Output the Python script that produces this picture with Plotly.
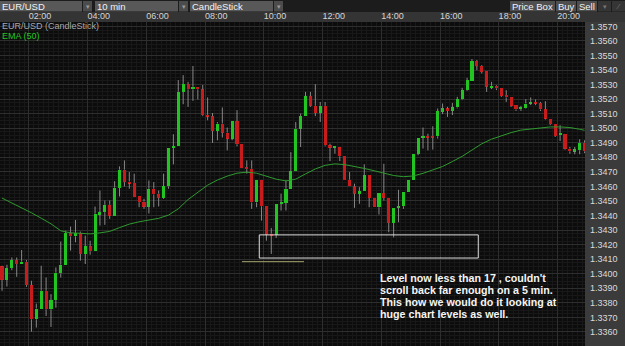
import plotly.graph_objects as go
import pandas as pd

DAY = "2013-11-20"
# 10-minute candles, 01:00 .. 20:50
times = pd.date_range(f"{DAY} 01:00", periods=120, freq="10min")

open_ = [1.34050, 1.33959, 1.34039, 1.34094, 1.34067, 1.34083, 1.33922, 1.33687, 1.33756, 1.33883,
         1.33756, 1.33819, 1.34002, 1.34062, 1.34278, 1.34257, 1.34281, 1.34136, 1.34188, 1.34154,
         1.34407, 1.34423, 1.34474, 1.34400, 1.34591, 1.34715, 1.34634, 1.34625, 1.34531, 1.34496,
         1.34462, 1.34584, 1.34550, 1.34522, 1.34600, 1.34867, 1.34876, 1.35250, 1.35303, 1.35267,
         1.35285, 1.35267, 1.35090, 1.35083, 1.34981, 1.35032, 1.34970, 1.34929, 1.35048, 1.34894,
         1.34733, 1.34722, 1.34490, 1.34646, 1.34464, 1.34274, 1.34269, 1.34481, 1.34488, 1.34584,
         1.34705, 1.34998, 1.35083, 1.35221, 1.35154, 1.35105, 1.35154, 1.34883, 1.34867, 1.34871,
         1.34807, 1.34646, 1.34600, 1.34550, 1.34568, 1.34676, 1.34522, 1.34457, 1.34554, 1.34522,
         1.34350, 1.34453, 1.34464, 1.34561, 1.34646, 1.34825, 1.34936, 1.34947, 1.34947, 1.34945,
         1.35112, 1.35136, 1.35119, 1.35143, 1.35198, 1.35262, 1.35326, 1.35462, 1.35428, 1.35393,
         1.35283, 1.35292, 1.35274, 1.35228, 1.35216, 1.35159, 1.35131, 1.35140, 1.35170, 1.35181,
         1.35174, 1.35131, 1.35067, 1.35028, 1.34952, 1.34963, 1.34860, 1.34843, 1.34848, 1.34901]
high = [1.34055, 1.34062, 1.34112, 1.34112, 1.34163, 1.34094, 1.33952, 1.33795, 1.34055, 1.33974,
        1.33860, 1.34043, 1.34221, 1.34296, 1.34324, 1.34370, 1.34290, 1.34262, 1.34227, 1.34462,
        1.34572, 1.34503, 1.34503, 1.34636, 1.34738, 1.34779, 1.34699, 1.34688, 1.34531, 1.34515,
        1.34641, 1.34630, 1.34572, 1.34688, 1.34867, 1.34959, 1.35331, 1.35365, 1.35319, 1.35428,
        1.35285, 1.35297, 1.35212, 1.35105, 1.35043, 1.35143, 1.35005, 1.35048, 1.35124, 1.34894,
        1.34779, 1.34779, 1.34646, 1.34646, 1.34464, 1.34315, 1.34481, 1.34550, 1.34641, 1.34836,
        1.35043, 1.35101, 1.35250, 1.35250, 1.35303, 1.35181, 1.35181, 1.34894, 1.34876, 1.34871,
        1.34807, 1.34699, 1.34619, 1.34595, 1.34752, 1.34676, 1.34522, 1.34554, 1.34756, 1.34522,
        1.34453, 1.34577, 1.34561, 1.34646, 1.34825, 1.34936, 1.35005, 1.34963, 1.35014, 1.35136,
        1.35170, 1.35147, 1.35174, 1.35216, 1.35278, 1.35347, 1.35476, 1.35469, 1.35434, 1.35393,
        1.35319, 1.35297, 1.35274, 1.35262, 1.35216, 1.35159, 1.35154, 1.35200, 1.35212, 1.35198,
        1.35181, 1.35186, 1.35067, 1.35028, 1.35021, 1.34963, 1.34871, 1.34871, 1.34924, 1.34917]
low = [1.33883, 1.33912, 1.34025, 1.33979, 1.34067, 1.33910, 1.33602, 1.33630, 1.33756, 1.33710,
       1.33634, 1.33767, 1.33974, 1.34062, 1.34159, 1.34216, 1.34090, 1.34067, 1.34131, 1.34154,
       1.34331, 1.34336, 1.34377, 1.34400, 1.34531, 1.34600, 1.34584, 1.34526, 1.34457, 1.34446,
       1.34414, 1.34457, 1.34462, 1.34515, 1.34584, 1.34752, 1.34876, 1.35165, 1.35147, 1.35188,
       1.35198, 1.35083, 1.35055, 1.34899, 1.34917, 1.34936, 1.34848, 1.34917, 1.34876, 1.34726,
       1.34688, 1.34446, 1.34457, 1.34365, 1.34227, 1.34136, 1.34246, 1.34434, 1.34434, 1.34584,
       1.34705, 1.34871, 1.35083, 1.35147, 1.35083, 1.35043, 1.34876, 1.34774, 1.34825, 1.34774,
       1.34646, 1.34600, 1.34453, 1.34481, 1.34568, 1.34457, 1.34457, 1.34407, 1.34503, 1.34285,
       1.34250, 1.34354, 1.34446, 1.34561, 1.34646, 1.34814, 1.34860, 1.34848, 1.34853, 1.34929,
       1.35097, 1.35078, 1.35090, 1.35136, 1.35193, 1.35257, 1.35326, 1.35400, 1.35377, 1.35250,
       1.35269, 1.35262, 1.35216, 1.35181, 1.35147, 1.35119, 1.35119, 1.35136, 1.35159, 1.35159,
       1.35119, 1.35060, 1.35021, 1.34940, 1.34912, 1.34853, 1.34825, 1.34821, 1.34821, 1.34829]
close = [1.33959, 1.34039, 1.34094, 1.34067, 1.34083, 1.33922, 1.33687, 1.33761, 1.33883, 1.33756,
         1.33819, 1.34007, 1.34062, 1.34278, 1.34257, 1.34281, 1.34136, 1.34188, 1.34154, 1.34412,
         1.34423, 1.34474, 1.34400, 1.34591, 1.34715, 1.34630, 1.34623, 1.34526, 1.34492, 1.34462,
         1.34584, 1.34545, 1.34522, 1.34600, 1.34867, 1.34876, 1.35250, 1.35303, 1.35267, 1.35285,
         1.35267, 1.35090, 1.35083, 1.34981, 1.35032, 1.34970, 1.34929, 1.35048, 1.34890, 1.34726,
         1.34719, 1.34490, 1.34646, 1.34464, 1.34269, 1.34267, 1.34481, 1.34488, 1.34584, 1.34705,
         1.34998, 1.35083, 1.35221, 1.35154, 1.35105, 1.35154, 1.34883, 1.34867, 1.34876, 1.34807,
         1.34646, 1.34600, 1.34550, 1.34568, 1.34676, 1.34522, 1.34457, 1.34554, 1.34522, 1.34350,
         1.34453, 1.34464, 1.34561, 1.34646, 1.34825, 1.34936, 1.34947, 1.34936, 1.34936, 1.35117,
         1.35136, 1.35119, 1.35143, 1.35198, 1.35262, 1.35331, 1.35462, 1.35428, 1.35388, 1.35285,
         1.35290, 1.35274, 1.35223, 1.35212, 1.35154, 1.35129, 1.35147, 1.35170, 1.35181, 1.35170,
         1.35129, 1.35067, 1.35028, 1.34947, 1.34968, 1.34860, 1.34841, 1.34855, 1.34901, 1.34841]

# EMA(50) every 20 minutes
ema_times = list(pd.date_range(f"{DAY} 01:00", periods=60, freq="20min")) + [pd.Timestamp(f"{DAY} 20:50")]
ema50 = [1.34520, 1.34486, 1.34457, 1.34419, 1.34382, 1.34343, 1.34295, 1.34281, 1.34278, 1.34274,
         1.34281, 1.34291, 1.34317, 1.34341, 1.34357, 1.34370, 1.34381, 1.34403, 1.34446, 1.34510,
         1.34561, 1.34609, 1.34644, 1.34671, 1.34691, 1.34698, 1.34691, 1.34672, 1.34650, 1.34638,
         1.34650, 1.34686, 1.34720, 1.34745, 1.34755, 1.34750, 1.34739, 1.34724, 1.34708, 1.34692,
         1.34675, 1.34667, 1.34672, 1.34690, 1.34713, 1.34737, 1.34771, 1.34807, 1.34850, 1.34893,
         1.34925, 1.34950, 1.34970, 1.34987, 1.34996, 1.35005, 1.35009, 1.35009, 1.35005, 1.34993,
         1.34986]

# drawn support zone and reference level
zone_start, zone_end = f"{DAY} 09:50:30", f"{DAY} 17:17:54"
zone_low, zone_high = 1.34108, 1.34267
level_start, level_end, level_price = f"{DAY} 09:15:08", f"{DAY} 11:21:48", 1.34083

note_lines = ["Level now less than 17 , couldn't",
              "scroll back far enough on a 5 min.",
              "This how we would do it looking at",
              "huge chart levels as well."]

UP, DOWN, WICK = "#22c422", "#c81c1c", "#8a8a8a"
MIN_BODY = 0.00010
PERIOD = 600000  # 10 minutes in ms
FONT = "Arial, Liberation Sans, sans-serif"

# bodies
mid = [(o + c) / 2 for o, c in zip(open_, close)]
body_h = [max(abs(c - o), MIN_BODY) for o, c in zip(open_, close)]
body_base = [m - h / 2 for m, h in zip(mid, body_h)]
body_col = [UP if c >= o else DOWN for o, c in zip(open_, close)]

# wicks (above and below the body)
wx, wy = [], []
for t, o, h, l, c, bb, bh in zip(times, open_, high, low, close, body_base, body_h):
    wx += [t, t, t, t, t, t]
    wy += [h, bb + bh, None, bb, l, None]

fig = go.Figure()
fig.add_trace(go.Bar(x=times, y=body_h, base=body_base, width=380000,
                     marker=dict(color=body_col, line=dict(width=0)),
                     xperiod=PERIOD, xperiodalignment="middle", hoverinfo="skip"))
fig.add_trace(go.Scatter(x=wx, y=wy, mode="lines", line=dict(color=WICK, width=1),
                         connectgaps=False, xperiod=PERIOD, xperiodalignment="middle",
                         hoverinfo="skip"))
fig.add_trace(go.Scatter(x=ema_times, y=ema50, mode="lines", line=dict(color="#2f9a2f", width=1),
                         xperiod=PERIOD, xperiodalignment="middle", hoverinfo="skip"))

W, H, MR, MT = 625, 346, 40, 22
PW, PH = W - MR, H - MT


def px(x):
    return x / PW


def py(y):
    return (H - y) / PH


shapes = []
ann = []


def box(x0, x1, y0, y1, color, layer="below"):
    shapes.append(dict(type="rect", xref="paper", yref="paper", x0=px(x0), x1=px(x1),
                       y0=py(y1), y1=py(y0), fillcolor=color, line=dict(width=0), layer=layer))


def label(x, y, text, size=9, color="#eeeeee", anchor="left", weight="normal"):
    ann.append(dict(xref="paper", yref="paper", x=px(x), y=py(y), text=text, showarrow=False,
                    xanchor=anchor, yanchor="middle", borderpad=0,
                    font=dict(family=FONT, size=size, color=color, weight=weight)))


# right price panel and time band
box(585, 625, 22, 346, "#3b3b3b")
box(0, 625, 12, 22, "#343434")
# top toolbar
box(0, 625, 0, 12, "#1c1c1c")
for (a, b, txt) in [(0, 92, "EUR/USD"), (95, 188, "10 min"), (190, 283, "CandleStick")]:
    box(a, b - 10, 1, 11.5, "#585858")
    box(b - 9, b, 1, 11.5, "#4c4c4c")
    label(a + 1, 6.3, txt, size=9.5, color="#f2f2f2")
    label(b - 4.5, 6.3, "▾", size=7, color="#9a9a9a", anchor="center")
for (a, b, txt) in [(510, 555, "Price Box"), (556, 576, "Buy"), (577, 597, "Sell")]:
    box(a, b, 1, 11.5, "#4f4f4f")
    label((a + b) / 2, 6.3, txt, size=9.5, color="#f2f2f2", anchor="center")
box(598, 611, 1, 11.5, "#353535")
box(612, 625, 1, 11.5, "#353535")
label(604.5, 6.3, "▾", size=7, color="#777777", anchor="center")
label(618.5, 6.3, "⁄", size=8, color="#777777", anchor="center")

# legend texts
label(1, 26.5, "EUR/USD (CandleStick)", size=9, color="#a9a9a9")
label(1, 36, "EMA (50)", size=9, color="#22c422")

# note text
for k, line in enumerate(note_lines):
    label(378.5, 277.7 + 12.2 * k, line, size=10.7, color="#f5f5f5", weight="bold")

# zone rectangle and level line (data coordinates)
shapes.append(dict(type="rect", xref="x", yref="y", x0=zone_start, x1=zone_end,
                   y0=zone_low, y1=zone_high, line=dict(color="#dedede", width=1),
                   fillcolor="rgba(0,0,0,0)", layer="above"))
shapes.append(dict(type="line", xref="x", yref="y", x0=level_start, x1=level_end,
                   y0=level_price, y1=level_price, line=dict(color="#a3a36c", width=1),
                   layer="above"))

fig.update_layout(
    width=W, height=H, margin=dict(l=0, r=MR, t=MT, b=0, pad=0),
    paper_bgcolor="#1c1c1c", plot_bgcolor="#0c0c0c", showlegend=False,
    bargap=0, shapes=shapes, annotations=ann,
    xaxis=dict(type="date", range=[f"{DAY} 01:00:50", f"{DAY} 20:55:55"], side="top",
               tickformat="%H:%M", dtick=7200000, tick0=f"{DAY} 02:00", ticks="",
               ticklabelshift=11, tickfont=dict(family=FONT, size=9, color="#d6d6d6"),
               showgrid=True, gridcolor="#2e2e2e", gridwidth=1, zeroline=False, showline=False,
               minor=dict(dtick=PERIOD, showgrid=True, gridcolor="#181818", gridwidth=1),
               fixedrange=True),
    yaxis=dict(range=[1.335034, 1.357302], side="right", dtick=0.001, tickformat=".4f",
               ticks="", ticklabelstandoff=4,
               tickfont=dict(family=FONT, size=9, color="#dadada"),
               showgrid=True, gridcolor="#2e2e2e", gridwidth=1, zeroline=False, showline=False,
               minor=dict(dtick=0.00025, showgrid=True, gridcolor="#181818", gridwidth=1),
               fixedrange=True),
)

fig.write_html("out.html", config={"displayModeBar": False})
